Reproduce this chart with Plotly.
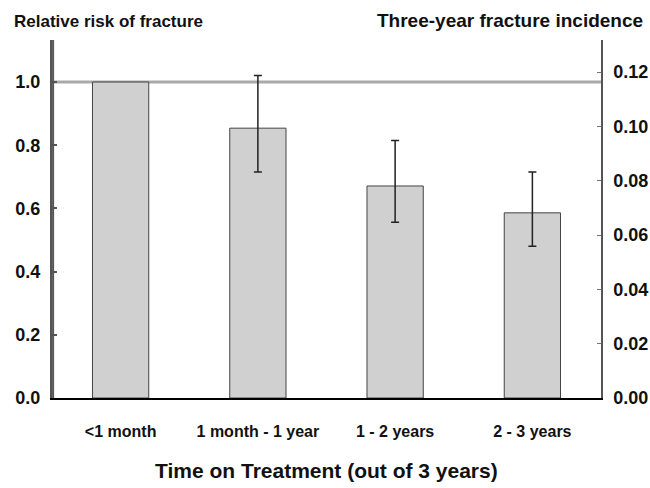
import plotly.graph_objects as go

categories = ["<1 month", "1 month - 1 year", "1 - 2 years", "2 - 3 years"]
relative_risk = [1.0, 0.854, 0.671, 0.586]
ci_upper = [1.0, 1.021, 0.815, 0.715]
ci_lower = [1.0, 0.715, 0.556, 0.480]
left_ticks = [0.0, 0.2, 0.4, 0.6, 0.8, 1.0]
right_ticks = [0.00, 0.02, 0.04, 0.06, 0.08, 0.10, 0.12]

# error bars only for the non-reference groups
err_x = categories[1:]
err_y = relative_risk[1:]
err_plus = [u - v for u, v in zip(ci_upper[1:], relative_risk[1:])]
err_minus = [v - l for v, l in zip(relative_risk[1:], ci_lower[1:])]

FONT = "Liberation Sans"

fig = go.Figure()
fig.add_trace(go.Bar(
    x=categories, y=relative_risk, width=0.41,
    marker=dict(color="#d0d0d0", line=dict(color="#444444", width=1)),
    showlegend=False, hoverinfo="skip",
))
fig.add_trace(go.Scatter(
    x=err_x, y=err_y, mode="markers",
    marker=dict(size=1, opacity=0),
    error_y=dict(type="data", symmetric=False, array=err_plus, arrayminus=err_minus,
                 color="#222222", thickness=1.5, width=4),
    showlegend=False, hoverinfo="skip",
))
# carrier trace so the right-hand axis is drawn
fig.add_trace(go.Scatter(
    x=categories, y=[None] * len(categories), yaxis="y2", mode="lines",
    showlegend=False, hoverinfo="skip",
))

fig.add_shape(type="line", xref="paper", yref="y", x0=0, x1=1, y0=1.0, y1=1.0,
              line=dict(color="#aaaaaa", width=3), layer="below")
# left axis spine
fig.add_shape(type="line", xref="paper", yref="paper", x0=0.002, x1=0.002, y0=0, y1=1,
              line=dict(color="#555555", width=2), layer="above")

fig.update_layout(
    width=650, height=488,
    margin=dict(l=52, r=49, t=40, b=90, autoexpand=False),
    plot_bgcolor="white", paper_bgcolor="white",
    font=dict(family=FONT, color="black"),
    xaxis=dict(
        showline=True, linecolor="black", linewidth=1.5, automargin=False,
        ticks="", tickfont=dict(size=16, weight="bold", family=FONT, color="#111111"),
        ticklabelstandoff=18, showgrid=False, zeroline=False,
    ),
    yaxis=dict(
        range=[0, 1.133], tickvals=left_ticks, tickformat=".1f", automargin=False,
        showline=True, linecolor="#555555", linewidth=2,
        ticks="inside", ticklen=5, tickcolor="#555555", tickwidth=1.5,
        tickfont=dict(size=18, weight="bold", family=FONT, color="#111111"),
        showgrid=False, zeroline=False, ticklabelstandoff=6,
    ),
    yaxis2=dict(
        overlaying="y", side="right", anchor="x", automargin=False,
        range=[0, 0.1318], tickvals=right_ticks, tickformat=".2f",
        showline=True, linecolor="#555555", linewidth=1.5,
        ticks="inside", ticklen=4, tickcolor="#777777",
        tickfont=dict(size=18, weight="bold", family=FONT, color="#111111"),
        showgrid=False, zeroline=False, ticklabelstandoff=7,
    ),
    annotations=[
        dict(text="Relative risk of fracture", xref="paper", yref="paper",
             x=-0.073, y=1.0, xanchor="left", yanchor="bottom", yshift=7,
             showarrow=False, font=dict(size=17, weight="bold", family=FONT, color="#111111")),
        dict(text="Three-year fracture incidence", xref="paper", yref="paper",
             x=1.080, y=1.0, xanchor="right", yanchor="bottom", yshift=7,
             showarrow=False, font=dict(size=19, weight="bold", family=FONT, color="#111111")),
        dict(text="Time on Treatment (out of 3 years)", xref="paper", yref="paper",
             x=0.5, y=0, xanchor="center", yanchor="middle", yshift=-72,
             showarrow=False, font=dict(size=21, weight="bold", family=FONT, color="#111111")),
    ],
)

fig.write_html("out.html")
